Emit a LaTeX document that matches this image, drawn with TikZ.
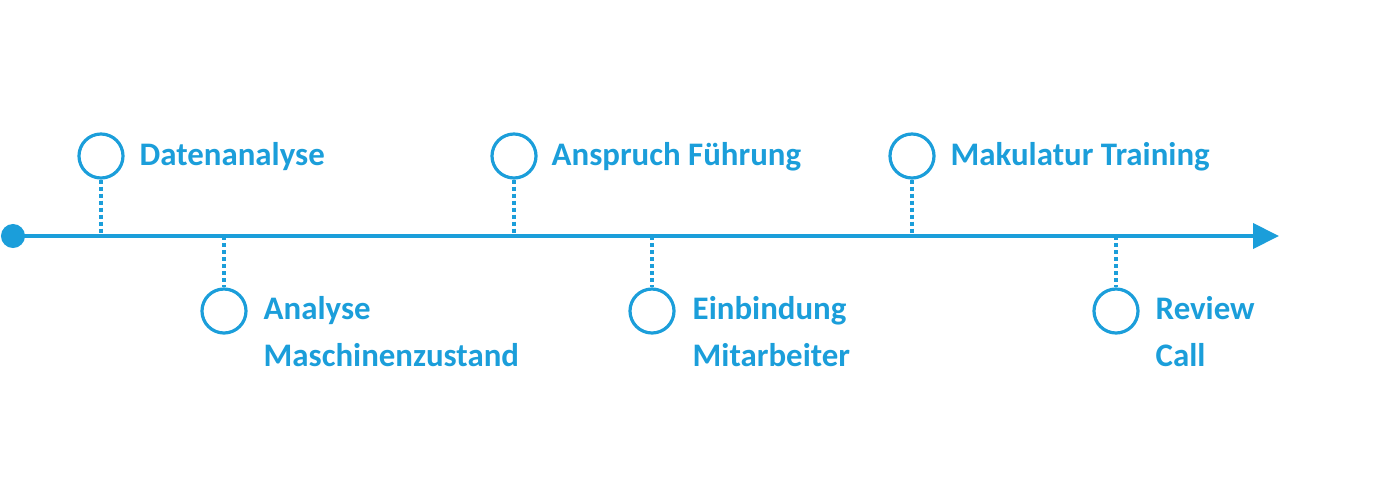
\documentclass[tikz,border=0pt]{standalone}
\usepackage{fontspec}
\setmainfont{Carlito}
\usetikzlibrary{arrows.meta}
\definecolor{tlblue}{RGB}{27,158,218}
\begin{document}
\begin{tikzpicture}[x=0.01cm,y=-0.01cm,
  axisline/.style={draw=tlblue,line width=0.04cm},
  ring/.style={circle,draw=tlblue,line width=0.032cm,minimum size=0.44cm,inner sep=0pt},
  connector/.style={draw=tlblue,line width=0.035cm,dash pattern=on 0.04cm off 0.03cm},
  label/.style={text=tlblue,font=\fontsize{9.35pt}{13.1pt}\selectfont\bfseries,inner sep=0pt,anchor=base west,align=left}]
\useasboundingbox (0,0) rectangle (1400,500);
% axis
\node[circle,fill=tlblue,minimum size=0.24cm,inner sep=0pt] (start) at (13,236) {};
\coordinate (end) at (1279,236);
\draw[axisline,-{Triangle[length=0.26cm,width=0.25cm]}] (start.center) -- (end);
% axis points
\coordinate (p1) at (101,236);
\coordinate (p2) at (224,236);
\coordinate (p3) at (514,236);
\coordinate (p4) at (652,236);
\coordinate (p5) at (912,236);
\coordinate (p6) at (1116,236);
% rings
\node[ring] (c1) at (101,156) {};
\node[ring] (c2) at (224,311) {};
\node[ring] (c3) at (514,156) {};
\node[ring] (c4) at (652,311) {};
\node[ring] (c5) at (912,156) {};
\node[ring] (c6) at (1116,311) {};
% connectors
\draw[connector] (c1.south) -- (p1);
\draw[connector] (p2) -- (c2.north);
\draw[connector] (c3.south) -- (p3);
\draw[connector] (p4) -- (c4.north);
\draw[connector] (c5.south) -- (p5);
\draw[connector] (p6) -- (c6.north);
% labels
\node[label] (t1) at (139,165) {Datenanalyse};
\node[label] (t2) at (263,366) {Analyse\\Maschinenzustand};
\node[label] (t3) at (551,165) {Anspruch Führung};
\node[label] (t4) at (692,366) {Einbindung\\Mitarbeiter};
\node[label] (t5) at (950,165) {Makulatur Training};
\node[label] (t6) at (1155,366) {Review\\Call};
\end{tikzpicture}
\end{document}
